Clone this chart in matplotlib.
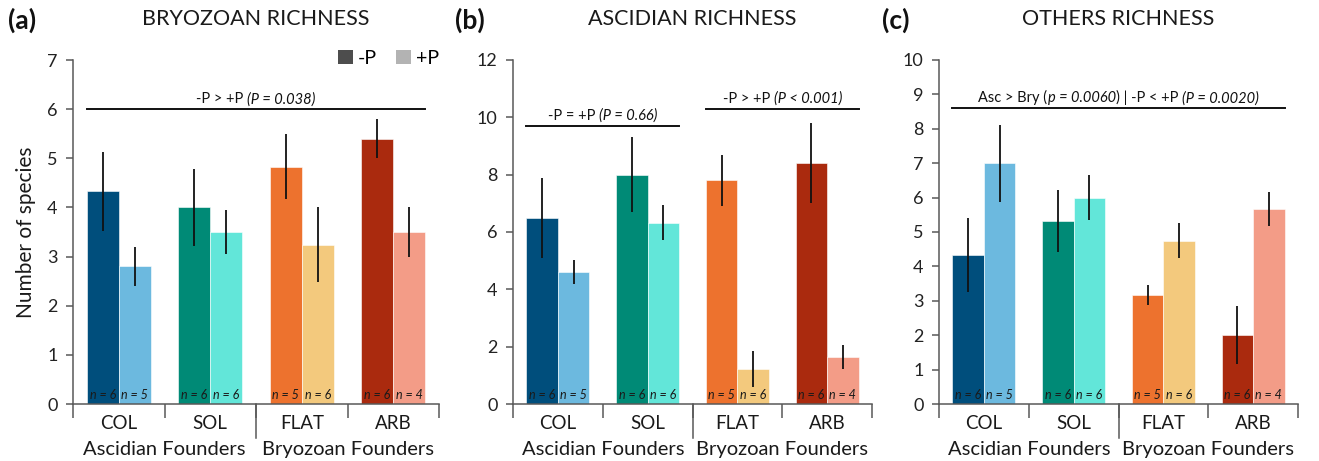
import matplotlib
matplotlib.use("Agg")
import matplotlib.pyplot as plt
from matplotlib.patches import Patch
from matplotlib.offsetbox import TextArea, HPacker, AnnotationBbox
import numpy as np

plt.rcParams['font.family'] = ['Lato', 'DejaVu Sans']

# ---- data ----
groups = ["COL", "SOL", "FLAT", "ARB"]
founders = ["Ascidian Founders", "Bryozoan Founders"]
colors_minus = ["#004E7C", "#008A76", "#ED722E", "#AA2A0E"]
colors_plus = ["#6CB9DF", "#62E6D9", "#F3C97D", "#F39C87"]
n_minus = [6, 6, 5, 6]
n_plus = [5, 6, 6, 4]

bry_minus = [4.33, 4.00, 4.83, 5.40]
bry_minus_err = [0.80, 0.78, 0.66, 0.40]
bry_plus = [2.80, 3.50, 3.24, 3.50]
bry_plus_err = [0.39, 0.44, 0.76, 0.50]

asc_minus = [6.50, 8.00, 7.80, 8.40]
asc_minus_err = [1.40, 1.30, 0.90, 1.40]
asc_plus = [4.60, 6.33, 1.22, 1.64]
asc_plus_err = [0.42, 0.60, 0.63, 0.42]

oth_minus = [4.33, 5.33, 3.17, 2.00]
oth_minus_err = [1.07, 0.90, 0.30, 0.85]
oth_plus = [7.00, 6.00, 4.75, 5.67]
oth_plus_err = [1.12, 0.65, 0.50, 0.50]

W, H = 1319, 461
fig = plt.figure(figsize=(W / 100, H / 100), dpi=100)

def px_axes(x0, x1, y0=404, y1=60):
    return [x0 / W, 1 - y0 / H, (x1 - x0) / W, (y0 - y1) / H]

AX_COLOR = "#595959"
bw = 0.35


def sig_label(ax, x, y, parts, size=10.5):
    boxes = []
    for txt, italic in parts:
        boxes.append(TextArea(txt, textprops=dict(fontsize=size, color="#111111",
                                                  style="italic" if italic else "normal")))
    pack = HPacker(children=boxes, pad=0, sep=0, align="baseline")
    ab = AnnotationBbox(pack, (x, y), xycoords="data", box_alignment=(0.5, 0.0),
                        frameon=False, xybox=(0, 2), boxcoords="offset points")
    ax.add_artist(ab)


def draw_panel(rect, minus, minus_err, plus, plus_err, ymax, title, ylabel=False):
    ax = fig.add_axes(rect)
    x = np.arange(len(groups))
    ax.bar(x - bw / 2, minus, bw, color=colors_minus, edgecolor="white", linewidth=0.4,
           zorder=2)
    ax.bar(x + bw / 2, plus, bw, color=colors_plus, edgecolor="white", linewidth=0.4,
           zorder=2)
    ax.errorbar(x - bw / 2, minus, yerr=minus_err, fmt="none", ecolor="#111111",
                elinewidth=1.3, capsize=0, zorder=3)
    ax.errorbar(x + bw / 2, plus, yerr=plus_err, fmt="none", ecolor="#111111",
                elinewidth=1.3, capsize=0, zorder=3)
    for i in range(len(groups)):
        ax.text(x[i] - bw / 2, ymax * 0.008, f"n = {n_minus[i]}", ha="center", va="bottom",
                fontsize=9, style="italic", color="#1a1a1a", zorder=4)
        ax.text(x[i] + bw / 2, ymax * 0.008, f"n = {n_plus[i]}", ha="center", va="bottom",
                fontsize=9, style="italic", color="#1a1a1a", zorder=4)

    ax.set_xlim(-0.5, 3.5)
    ax.set_ylim(0, ymax)
    ax.set_yticks(np.arange(0, ymax + 0.01, 2 if ymax == 12 else 1))
    ax.tick_params(axis="y", length=5, width=1.1, color=AX_COLOR, labelsize=13,
                   labelcolor="#222222", pad=6)
    ax.set_xticks(x)
    ax.set_xticklabels(groups)
    ax.tick_params(axis="x", which="major", length=0, labelsize=13.5, pad=8,
                   labelcolor="#1a1a1a")
    ax.set_xticks([-0.5, 0.5, 1.5, 2.5, 3.5], minor=True)
    ax.tick_params(axis="x", which="minor", length=10, width=1.1, color=AX_COLOR)
    ax.plot([1.5, 1.5], [0, -0.1], transform=ax.get_xaxis_transform(), color=AX_COLOR,
            lw=1.1, clip_on=False)
    for s in ("top", "right"):
        ax.spines[s].set_visible(False)
    for s in ("left", "bottom"):
        ax.spines[s].set_color(AX_COLOR)
        ax.spines[s].set_linewidth(1.1)

    ax.text(0.5, -0.131, founders[0], transform=ax.get_xaxis_transform(), ha="center",
            va="center", fontsize=14.5, color="#1a1a1a")
    ax.text(2.5, -0.131, founders[1], transform=ax.get_xaxis_transform(), ha="center",
            va="center", fontsize=14.5, color="#1a1a1a")

    if ylabel:
        ax.set_ylabel("Number of species", fontsize=15, color="#1a1a1a", labelpad=8)

    cx = rect[0] + rect[2] / 2
    fig.text(cx, 1 - 19 / H, title, ha="center", va="center", fontsize=15.5,
             color="#1a1a1a")
    return ax


axA = draw_panel(px_axes(73, 439), bry_minus, bry_minus_err, bry_plus, bry_plus_err,
                 7, "BRYOZOAN RICHNESS", ylabel=True)
axB = draw_panel(px_axes(513, 872), asc_minus, asc_minus_err, asc_plus, asc_plus_err,
                 12, "ASCIDIAN RICHNESS")
axC = draw_panel(px_axes(939, 1298), oth_minus, oth_minus_err, oth_plus, oth_plus_err,
                 10, "OTHERS RICHNESS")

for xpix, lab in [(8, "(a)"), (455, "(b)"), (882, "(c)")]:
    fig.text(xpix / W, 1 - 20 / H, lab, ha="left", va="center", fontsize=19,
             fontweight="bold", color="#111111")

# significance bars
axA.plot([-0.35, 3.35], [6.0, 6.0], color="#111111", lw=1.4, zorder=3)
sig_label(axA, 1.5, 6.0, [("-P > +P ", False), ("(P = 0.038)", True)])

axB.plot([-0.35, 1.35], [9.7, 9.7], color="#111111", lw=1.4, zorder=3)
sig_label(axB, 0.5, 9.7, [("-P = +P ", False), ("(P = 0.66)", True)])
axB.plot([1.65, 3.35], [10.3, 10.3], color="#111111", lw=1.4, zorder=3)
sig_label(axB, 2.5, 10.3, [("-P > +P ", False), ("(P < 0.001)", True)])

axC.plot([-0.35, 3.35], [8.6, 8.6], color="#111111", lw=1.4, zorder=3)
sig_label(axC, 1.5, 8.6, [("Asc > Bry (", False), ("p = 0.0060", True),
                          (") | -P < +P ", False), ("(P = 0.0020)", True)])

# legend
handles = [Patch(facecolor="#4D4D4D", edgecolor="none", label="-P"),
           Patch(facecolor="#B3B3B3", edgecolor="none", label="+P")]
axA.legend(handles=handles, ncol=2, loc="upper right", bbox_to_anchor=(1.0, 1.03),
           frameon=False, fontsize=14, handlelength=0.75, handleheight=0.75,
           handletextpad=0.25, columnspacing=1.0, borderpad=0, borderaxespad=0)

fig.savefig("out.png", dpi=100)
